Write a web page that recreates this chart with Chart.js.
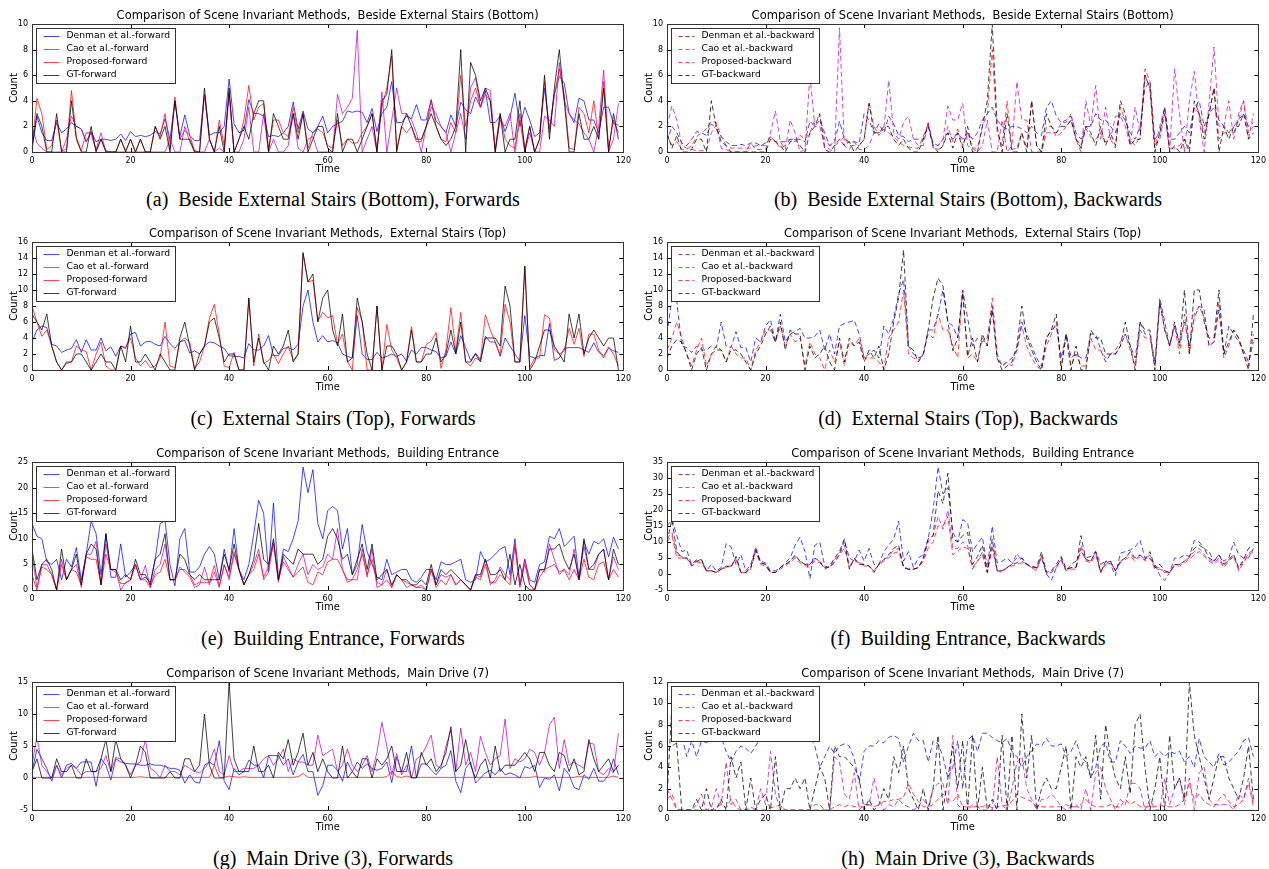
<!DOCTYPE html>
<html><head><meta charset="utf-8">
<script src="https://cdn.jsdelivr.net/npm/chart.js@4.4.1/dist/chart.umd.min.js"></script>
<style>
html,body{margin:0;padding:0;background:#fff;width:1269px;height:869px;overflow:hidden;}
.pane{position:absolute;width:635px;height:180px;}
.cap{position:absolute;width:600px;text-align:center;font-family:"Liberation Serif","Times New Roman",serif;font-size:20px;line-height:24px;color:#000;white-space:pre;}
</style></head><body>
<script>
// ---------- data ----------
const TIME_TICKS = [0,20,40,60,80,100,120];
const TITLES = [
 "Comparison of Scene Invariant Methods,  Beside External Stairs (Bottom)",
 "Comparison of Scene Invariant Methods,  External Stairs (Top)",
 "Comparison of Scene Invariant Methods,  Building Entrance",
 "Comparison of Scene Invariant Methods,  Main Drive (7)"
];
const CAPTIONS = [
 "(a)  Beside External Stairs (Bottom), Forwards", "(b)  Beside External Stairs (Bottom), Backwards",
 "(c)  External Stairs (Top), Forwards", "(d)  External Stairs (Top), Backwards",
 "(e)  Building Entrance, Forwards", "(f)  Building Entrance, Backwards",
 "(g)  Main Drive (3), Forwards", "(h)  Main Drive (3), Backwards"
];
const METHODS = ["Denman et al.", "Cao et al.", "Proposed", "GT"];

// (a) forward
const A_den = [0.2,2.8,1.5,0.9,0.9,2.3,1.5,1.8,2.3,2.0,
1.8,0.8,1.6,0.8,1.0,1.0,0.9,1.0,1.4,0.9,
1.6,1.2,1.3,1.2,1.3,1.6,1.4,2.6,1.0,4.0,
1.2,2.9,1.3,0.9,0.9,4.5,1.3,1.5,1.5,2.0,
5.7,2.2,1.5,1.7,4.1,3.0,3.0,2.8,1.2,1.3,
1.2,1.5,2.0,3.9,1.8,3.2,1.8,1.5,2.0,2.8,
1.5,2.0,2.2,2.4,3.2,3.1,3.2,3.1,2.3,3.4,
1.6,3.0,3.5,5.5,2.3,2.3,2.8,2.6,3.7,2.5,
2.5,4.1,2.4,2.0,1.5,2.9,2.0,3.9,3.3,3.0,
4.3,3.5,4.8,2.3,2.3,2.8,1.6,2.7,4.6,2.0,
3.5,2.5,1.2,1.5,5.0,1.8,4.5,5.9,5.4,3.0,
2.3,4.2,4.0,2.5,2.5,1.5,3.5,3.5,2.2,2.1];
const A_cao = [2.0,0.7,0.3,0,0,0,0,1.0,2.8,2.0,
1.8,0.8,1.5,0.2,1.5,0,0,0,0,0,
0,0,0,0,0,0,0,0,1.0,0,
0,2.0,0.8,0,0,0,1.0,0,0.3,0,
4.5,0,0,1.0,3.5,0,0,3.0,0,1.0,
0,0,0.5,3.0,0.3,0,1.0,1.2,0,0,
0,0,4.5,3.0,3.5,4.2,9.5,0,1.0,2.0,
0,4.7,0,2.5,5.0,3.0,3.0,2.5,1.5,0,
2.0,3.5,3.0,2.0,1.5,0,1.5,3.0,1.0,5.0,
5.8,3.5,5.0,4.8,0,2.5,2.0,3.0,0,2.5,
0,1.5,0,0,2.8,2.5,2.0,7.0,4.0,3.0,
2.5,2.2,1.5,1.0,0,2.0,6.4,0,1.0,3.8];
const A_prop = [0.3,4.2,3.0,0.2,0.5,2.5,0.1,0.2,4.8,1.2,
0.1,1.5,1.5,0.1,1.0,0.1,0,0,1.0,0.1,
1.0,0,1.0,0,0,2.0,1.2,3.0,0.2,4.3,
1.0,1.7,1.3,0.1,0,4.5,1.0,0,2.5,0.5,
4.7,0,1.0,2.5,5.2,2.5,3.5,3.8,0.2,2.5,
2.5,1.5,1.2,3.5,1.5,3.0,0.3,1.5,1.8,1.5,
0.5,0.3,2.5,0.5,1.0,0.7,0.7,1.5,2.0,3.0,
0.2,3.5,5.0,7.5,0.2,2.0,1.5,2.0,0.8,0.8,
2.0,4.0,2.0,1.0,0.8,2.3,1.5,6.0,2.0,4.0,
5.0,3.5,4.5,4.0,0.2,3.0,1.0,0.5,0.3,3.0,
0.3,2.0,0,1.0,5.5,1.5,4.5,6.5,4.5,0.3,
0.2,3.5,3.0,1.5,4.0,1.0,5.5,0.3,2.5,1.5];
const A_gt = [0.3,3,2,0,0,3,0,0,4,1,
0,0,2,0,1,0,0,0,1,0,
1,0,1,0,0,2,1,2,0,4,
1,1,1,0,0,5,1,0,2,0,
5,0,1,2,1,3,4,4,0,3,
2,1,1,3,1,3,0,1,2,2,
0.3,0,3,0,1,1,0,1,2,3,
0,4,4.5,8,0,2,3,2,1,1,
2,3,2,1,0.5,1,2,8,0,7,
6,4,5,4,0,3,0,1,1,4,
0,2,0,1,6,1,5,8,4,0,
0,3,1,1,2,1,5,0,3,1];

// (b) backward
const B_den = [0.8,2.0,1.5,0.7,0.5,1.0,1.6,1.5,1.3,2.2,
1.8,1.2,0.8,0.5,0.5,0.6,0.5,0.7,0.7,0.5,
0.7,1.2,0.8,0.8,0.8,1.0,1.0,1.0,0.8,2.4,
2.0,2.5,1.5,0.5,0.8,2.4,1.0,0.8,0.8,0.7,
3.0,2.5,1.5,2.2,1.5,2.8,2.2,1.3,1.2,0.8,
1.0,1.0,1.0,2.2,0.7,0.5,1.0,1.5,1.0,1.5,
1.0,1.5,1.0,1.5,2.5,3.0,3.5,2.5,2.0,1.8,
2.0,2.0,1.8,1.5,2.0,1.5,1.3,3.5,4.0,2.8,
2.3,2.5,2.8,1.5,1.0,2.0,2.0,3.0,2.5,2.5,
2.0,1.5,3.0,2.5,1.5,1.0,2.0,5.0,5.5,1.0,
1.5,3.0,1.0,1.0,1.5,2.0,1.5,3.5,4.0,2.0,
3.0,3.5,2.5,2.0,1.5,1.5,2.5,3.0,2.0,2.3];
const B_cao = [2.0,3.6,2.5,0.5,0.3,0.2,0.1,0.1,0.1,1.5,
2.1,0.3,0.2,0,0,0,0,0.7,0.2,0.2,
0.2,1.5,3.2,0.8,0.2,2.5,1.5,0,0.2,6.0,
2.0,2.0,0.5,0.2,0,9.7,0.5,0.2,0.8,0.2,
0.2,0.5,1.5,1.5,1.8,5.6,1.5,1.0,2.3,2.8,
1.0,0.5,0.5,2.3,0.3,0.5,1.0,3.6,2.5,2.5,
3.8,0.5,0.3,0,0.5,2.5,0,0,2.5,0,
0.5,5.5,2.5,2.5,0,0,0,1.5,1.5,1.5,
2.3,2.3,3.0,1.0,0,4.0,2.0,5.2,1.0,3.5,
1.0,2.8,2.8,2.0,0.5,3.5,1.5,6.0,5.0,0.5,
1.0,3.0,0,6.5,3.0,0,4.0,6.3,2.5,0,
3.8,8.2,2.0,2.0,4.0,1.0,3.0,4.0,1.0,3.0];
const B_prop = [1.3,0.5,0.8,0.2,0.2,0.5,1.2,1.5,1.8,2.4,
2.3,1.2,0.5,0.3,0.3,0.3,0.3,0.3,0.5,0.5,
0.5,1.2,0.8,0.3,0.5,1.0,0.8,1.3,1.0,1.5,
2.5,2.8,1.0,0.5,0.5,0.8,1.2,0.5,0.5,0.5,
1.0,3.9,2.0,1.3,1.8,1.5,1.2,0.8,0.5,0.4,
0.3,0.3,1.2,2.2,0.5,0.2,0.5,2.0,0.8,1.8,
0.5,1.5,0.3,0.3,2.0,3.0,8.0,1.5,0.5,4.0,
0.2,0.3,1.5,0.3,4.0,0.5,0,2.0,2.0,1.2,
1.5,2.0,2.5,1.0,0.5,1.8,1.2,1.0,1.5,0.8,
1.0,0.3,3.5,2.5,1.0,0.5,1.2,6.5,5.5,0.3,
2.0,3.5,0.3,0.3,0.5,1.0,0.3,3.5,3.0,1.5,
3.0,5.0,1.0,1.5,1.5,2.0,2.5,4.0,1.5,2.0];
const B_gt = [1.5,0.3,1.3,0,0,0.2,1,1,0,4,
2,0.8,0.5,0,0,0,0,0,0,0,
0,1,0.8,0.5,0,0.8,1,0.5,0,1.5,
2,3,0.2,0,0.5,1,0.5,0.8,0,0.5,
1,3.8,1.5,1.5,2,2,1,0.5,1,0.3,
0,0,1,2,0.5,0,0.5,1.5,0.3,1.5,
0.3,2,0,0,2,4,10,2,0,3,
0,0,1.5,0,4,0.5,0,3,2,1.5,
2,2,2.5,1,0.3,2,1.5,0.5,2,0.5,
1.5,0.5,4,3,0.5,1,1,6,5,0,
1.5,3.5,0,0.5,0,1,0,4,3,1,
3,5,0,2,1,2,2,3,1,1.5];

// (c) forward
const C_den = [3.5,5.0,5.5,5.3,3.2,3.0,2.2,2.5,2.7,3.8,
2.2,3.8,2.5,2.5,4.0,2.4,2.9,1.7,3.0,2.7,
4.5,4.7,3.0,3.5,3.6,3.2,3.0,4.2,3.3,2.7,
3.5,3.7,2.1,2.4,2.0,3.0,3.5,3.4,3.0,2.7,
1.8,1.7,1.7,1.5,3.3,2.5,2.5,3.0,4.3,1.8,
1.8,2.7,2.8,2.5,3.2,8.0,10.0,6.0,3.5,4.3,
3.5,3.7,3.4,2.0,1.7,1.5,6.8,2.0,1.3,1.3,
2.2,1.5,1.7,2.0,1.7,2.0,1.1,2.5,2.0,2.8,
2.8,2.5,2.3,1.5,1.7,3.5,2.0,4.3,2.8,1.2,
2.1,1.3,4.2,3.5,3.5,1.7,4.0,3.0,2.0,1.1,
6.8,1.7,1.5,1.8,1.8,5.8,1.2,1.5,2.7,2.8,
2.8,2.8,2.5,2.2,3.4,2.2,1.8,2.7,2.4,2.2];
const C_cao = [];
const C_prop = [8.0,6.0,4.2,5.0,3.0,1.0,0,0.8,1.0,3.0,
2.5,2.3,0,2.0,3.5,0.5,0,0,3.0,2.8,
4.0,1.5,0.5,1.2,0.3,0.5,1.5,6.0,0.5,0.3,
3.5,4.0,3.5,0.2,1.0,3.0,6.5,8.2,4.5,0.5,
0.3,2.2,0,0,9.0,0.5,4.5,0.8,1.2,2.0,
0.8,2.0,3.0,1.2,2.0,14.5,11.0,11.2,6.1,7.2,
6.5,6.8,3.2,4.5,1.1,0,7.8,6.1,0,0,
8.0,0,5.7,2.5,1.5,0,1.0,5.4,1.0,1.0,
3.2,3.6,4.7,0.2,2.5,7.8,2.3,7.2,1.0,0.5,
1.5,1.2,6.9,5.0,3.5,1.9,8.2,6.0,1.0,1.0,
12.9,0.3,1.5,1.5,6.9,6.5,2.5,2.0,2.4,5.2,
3.2,5.2,1.7,4.5,4.5,2.5,1.5,2.9,2.0,0.5];
const C_gt = [7,6,5,7,3,1,0,1,1,2,
2,1,0,1,2,1,1,0,3,1,
5.5,1,1,2,1,0,2,1,0,0,
4,6,3,0,2,3,6,6.5,4,1,
2,2,0,0,9,1,4,1,0,3,
2,3,5,1,2,14.7,11,12,6,9,
10,5,3,7,1,1.5,9,6,2,0,
8,0,3,3,2,0,1,5,1,1,
2,2,4,1,2,5,2,6,1,1,
2,1,4,4,4,3,10.5,8,1,1,
13,0,1,3,5,5,3,2,1,7,
4,7,2,4,5,4,3,4,4,0];

// (d) backward
const D_den = [4.5,9,8.5,3,2.8,2.2,3,2.5,2.5,3,
2.8,6,3,2.8,4.8,2.8,2.8,1,4,3.5,
5.5,6.3,3.5,7,3.5,4.5,4.8,5.2,4,4,
4.2,5,2.5,4.5,2,5.5,5.8,6,6.2,4.5,
1.5,2,2.5,1.5,5.5,4.5,6.5,9.5,11.3,3,
2,1.5,1.8,5,5,7,10,6,5.5,4,
10,6.5,3,4,3.5,4,8,1.5,0.5,1,
1.5,2.5,6,4.5,3,1.5,0.5,4,5,5.5,
1.5,4.5,1.5,2,1.5,1.5,4.5,4.5,2.5,1,
2,2,3,4.5,3,1.5,6,4.5,4.5,1,
9,6,3,5.5,3.5,6,3,6.5,8,7.5,
3,3.5,7.5,2,5.5,4.5,3.5,2.5,1,3.5];
const D_cao = [];
const D_prop = [2.5,4,6,4,2,0.5,2.5,4,0.5,2,
3,2.5,1,3,2,1.5,1.5,0,2.5,3.5,
5,5,3.5,5.5,3,4.5,3.5,4,0.5,3.5,
2,1.5,0,2.5,1,3.5,0.5,3.5,3,4,
1.5,1.5,1.5,1,0.2,4,5,6,10,2,
1.5,1.2,2,4.5,4,7,5,5,3,1.5,
10,1.5,2,1,4,3,9,2,0.5,1,
0.5,2.5,5.5,3,1.5,0.5,0,3,4.5,6,
0.5,4.5,0.5,2,0.5,0.5,4,2.5,2.5,1.5,
2,2.5,3.5,4.5,2.5,0.5,5,4,4,0.5,
8.5,5,3,5.5,2,7,2,7,8,6.5,
3,3.5,8.5,1.5,3,5,4,2,0.5,4.5];
const D_gt = [1.5,3,3.8,3.5,2,0,2,2.8,0,2,
2.5,2.5,1,2.5,2.5,2,1,0,2,3,
4.5,5.5,3.5,6,2.5,5,4.5,4.5,0,3,
1.5,2,3,1,0,4,1,4,3,3.5,
1,2.5,1.5,3,0,2,6,9,15,3,
2.5,1,2,5,9,11.5,10.5,6,2.4,4,
9.7,1.7,4,1,4.5,3,7.5,1.5,0,0.5,
1,3,8,4,2.5,1,0,4,5,7,
0,4.5,0,3,0,0,5,4,4,2,
2,2,3,6,3,0,6,5,5,0,
8.5,5,3,6,3,10,2,10,10,6,
4,4,10,2,3.5,5,4,2,0,7];

// (e) forward
const E_den = [13,10.5,10,5.5,5,6,2,6,4.5,8.3,
2,7,13.5,11,3,11,2.5,2.5,9,2.5,
3.5,5,2,2.5,1.5,6,13,13.5,5,0.8,
10,12,3.5,3.5,4.5,7,8.5,7,2,8,
3.5,12,4,2,5,11,17.5,15,3.5,17,
2,8,7.5,10,13.5,24,19,23.5,13,10,
15.5,16.3,15.5,8,12,3,5,12.8,7.5,5,
2.5,2,6,3,3.5,4,4,2,1.5,2.5,
4,4,2,5.5,5,5,5.5,6,2,1.5,
2,7.5,5.5,6,7,8,8.5,3,10,1,
6,2,1.5,5,5.5,10.5,10,12,8.5,9.5,
10.5,2.5,9.5,7,9.5,9,10,6.5,10.3,8];
const E_cao = [7,0.5,5,5,3,0,6,2,4,5,
0.5,7,7,9.5,1,9,4,4,0,1.5,
2,5,2,4.8,0.5,4,5,9,2,2,
4.5,3.5,2.5,0.5,1,4.5,1,3.5,0.5,5,
2,7,4,1,3,5,8,2,3.5,9.5,
1.5,6.5,4.5,2.5,5,7,3,5,4,4.5,
7,6,12,4,2,2,2,8,2.5,8,
0.5,1,4,0.5,3,2,0.5,1,0.5,0.5,
0,4,1,3,2.5,3,1,2,1,0,
3,2.5,6,1,2,4.5,3,2,9,1,
6,1,0,4,3.5,9,6,3,4,3,
8,2,8.5,4,4,7,8,2,6.5,4];
const E_prop = [3,0,4.5,4,3,0,5,2,4,3.5,
1,6.5,6,6,1,7,4,3.5,1.2,1.3,
2,5,2,2,0.5,3,3.5,6,2,2,
4,4,3,1,1.5,1.5,1.5,4.8,0.8,4.8,
2.5,7.5,4,1,3,4,7,2.5,4.5,9,
2,5.5,4,2.5,3.5,4.5,1.5,1,3.5,3,
5.5,6,6,4,1.5,2,4,7,3,6,
1.5,1,2,0.5,3,2,1.5,1,0.5,1,
0,4,0.5,2,1,3,1,2,1,0,
2.5,2,5,1.5,1.5,3,2,1,8.5,0.5,
5,1,0,2.5,4,4.5,5,3.5,4,2,
4,2,6,2.5,2,5,5.5,2,4,2.5];
const E_gt = [8,2,5,6,4,0,8,2,4,7,
1,7,9,8,1,11,4,4,2,3,
2,6,3,3,1,6,7,11,2,2,
7,6,3,2,3,2,2,2,2,7,
4,9,4,1,3,6,13,6,5,10,
2,7,6,5,8,7,7,7,5,6,
10.5,12,10,6,7,3,6,9,4,9,
2,3,4,1,3,2,2,1,1,2,
1,5,1,4,3,4,3,2,1,0,
3,3,6,3,3,4,2,7,1,5,
1,0,0,4,4,8,8,9,6,4,
7,2,10,4,5,7,8,2,8,5];

// (f) backward
const F_den = [15,17,12,7,7.5,3,4.5,4.5,1,3,
1,2,9.5,8.5,3,6,1,3,8,4,
3.5,1,1,2,3.5,5,9,11.5,7,-1.5,
9,10,2.5,2,3.5,6,10.5,5,4,7.5,
4,8,3,3,7,9,11,16.5,4,7,
2,5,6,11,20,33.5,25,27,13,10,
17,16,7,9.5,11.5,2,15,3.5,4,5,
3.5,5,5,3,2,2,5,0,-2,2,
5,1,3,4,7,5,5.5,7,3,4,
3,-0.5,6.5,7,7.5,8.5,10.5,5,5,3,
-0.5,-2,0.5,5,5,6,5.5,10.5,10,8,
7,4,6,4,5,10,6,5,5,8];
const F_cao = [11,13,6,5.5,5,2.5,4,4,1,1,
0.5,1.5,2.5,2.5,5,0.5,0.5,2,8.5,3.5,
3,0.5,0.5,2,3,4,5.5,4,3,3,
4.5,4,2,2,4.5,6.5,9,2,4.5,3.5,
3,2.5,1,3,4.5,5.5,7.5,8,2,1.5,
1.5,2,4.5,10,12,18,14,20,8,8,
10,9,1.5,4,7,0.5,9,1,0.5,2,
3,6.5,4,3,2,1.5,6,0,0.5,2.5,
4.5,1,2,2,9,4.5,4,7,0.5,3.5,
4,1,4,5,6.5,4.5,6,4.5,6,2,
2,0.5,0.5,3,3,4,5,7,8,6,
4.5,3.5,5,2.5,4.5,6,1.5,4,6.5,7.5];
const F_prop = [10,12,5,5,5,2.5,3.5,3.5,1,1,
0.5,1.5,2,2.5,4.5,0.5,0.5,1.5,7,3,
2.5,0.5,0.5,1.5,2.5,3.5,5,3.5,2.5,2.5,
4,3.5,2,2,4,6,8,2.5,4,3.5,
2.5,2.5,1,3,4,5,6.5,7,2.5,1.5,
1.5,2,4,8,10,15,15,18,6,7,
8.5,8,2,4,6,0.5,8,1,1,2,
2.5,3,3.5,3,2,1,5.5,0.5,0.5,2,
4,1,1.5,1.5,8,4,3.5,6,0.5,3,
3.5,1,3.5,4.5,5.5,4,5.5,4,5,1.5,
1.5,0.5,0.5,2.5,2.5,3.5,4.5,6,7,5.5,
4,3,4.5,2,4,5.5,1,3.5,6,7];
const F_gt = [10,17,7,5,5,3,4,4.5,1,1,
0.5,1.5,2.5,2,5.5,0.5,0.5,2,7.5,3.5,
3,0.5,0.5,2,3,4,6,4,3,3,
5,4,1.5,2.5,5,7,11,1.5,5,3,
3,2.5,0.5,3,4.5,6,8,9,2,1.5,
1.5,2,5,11,12,26,22,31.5,11,10,
12,13,3,5.5,9,0.5,11,1,1,2,
3,3.5,5,3,2.5,2,7,0.5,1,3,
5.5,1.5,2,2,12,4.5,4,7,0.5,4,
4,1,4,5,7,5,6,4.5,7,2,
3,1,0.5,3,3,4,5.5,8,9,8,
5,4,6,3,4.5,6,2,4.5,8,9];

// (g) forward
const G_den = [1,4.5,3,1.5,-0.5,2,0,2,2.3,1.5,
2.5,2.5,2.5,-1.3,3,2,-0.3,3,2.5,2.3,
2.2,2.2,2,2,2.2,2,2,1.8,1.5,1.5,
1.2,-0.8,0.5,-0.6,-0.8,2,2.5,2,5.8,-0.5,
-1.8,1.5,0.5,1,2.8,2,2,0,3.5,3.5,
3.5,2,3,0.5,2.5,3.7,1,1,-2.7,-1.2,
2,2,1.2,-0.5,2.5,1,2.5,1.5,2.2,1.5,
1.2,1.5,2.5,-0.7,3.3,1,1,5,0,2.2,
2.2,1.3,0.5,1.5,2,4.3,-0.5,-2.3,1.5,2.5,
-0.8,0,0.8,1.2,0.5,1.5,0.5,0.8,0.5,0,
1.8,1.5,2,-1.5,0,-0.2,0.5,-2,1.5,0.5,
-1.5,-1.8,0.5,-0.2,1.5,-0.5,-0.5,0.5,3,0.5];
const G_cao = [2,6.5,2,1,0,2,0.5,1.5,2,1.5,
0.5,1,1,1,1.5,3.5,1,3.2,3,2,
0.5,2,2.5,6,1.5,1,0,2,1,1,
0.5,2,1.5,1,0.8,1.5,2.5,4.5,1,0.5,
3.5,1,1,1.5,1.5,1.5,2,3,3.5,2,
3,4.5,1,3,2.5,2.5,2,2,6.7,3.5,
4,4.5,1,2,4.5,2,1,2,3.5,1,
4,8.7,5,0.5,3.8,0.5,2,0,3,3.5,
5,6.7,2,1.5,5,7.5,1,7.8,2,4,
1,6.5,4,2,3,3.5,9.2,1.5,3,2.5,
3,4.5,4,2,4,8.3,9.5,1.5,6,2,
2.5,2,1.5,5.5,5.3,1,0.5,1.5,0.8,7];
const G_prop = [0.1,0.1,0.1,0.1,0.1,0.1,0.1,0.1,0.1,0.1,
0.1,0.1,0.1,0.1,0.1,0.1,0.1,0.1,0.1,0.1,
0.1,0.1,0.2,0.1,0.1,0.1,0.1,0.1,0.1,0.1,
0.1,0.1,0.1,0.1,0.1,0.1,0.1,2.0,0.1,0.1,
0.3,0.2,0.1,0.2,0.1,0.1,0.1,0.1,0.1,0.1,
0.1,0.1,0.1,0.1,0.2,0.7,0.1,0.1,0.1,0.1,
0.1,0.1,0.1,0.1,0.1,0.1,0.1,0.1,0.1,0.1,
0.1,0.1,0.2,1.0,0.2,0.1,0.3,0.1,0.1,0.1,
0.1,0.1,0.1,0.1,0.1,0.1,0.1,0.1,0.1,0.1,
0.1,0.1,0.1,0.1,0.1,0.1,0.1,0.1,0.1,0.1,
0.1,0.1,0.2,0.1,0.1,0.1,0.1,0.1,0.1,0.1,
0.1,0.3,0.1,0.1,0.1,0.1,0.1,0.1,0.3,0.1];
const G_gt = [1,3,0,0,0,3,1,1,2,0,
0,3,1,1,3,6,1,6,3,2,
0,2,5,4,0,0,0,0,1,0,
0,3,3,1,2,10,2,0,0,0,
15,3,1,1,1,5,1,1,2,0,
4,3,6,2,4,7,2,4,1,3,
1,0,0,5,0,1,0,3,3,0,
3,2,3,5,1,1,4,0,0,4,
2,3,1,2,4,8,1,2,6,2,
0,2,3,0,5,1,2,2,2,3,
4,3,1,4,4,2,1,4,3.5,1,
3,0.5,1,6,3,1,2,3,1,2];

// (h) backward
const H_den = [5.5,6,6.3,7,5,6.5,5,6.5,6.3,6.5,
7,6.8,5.5,4.5,5.5,6,5.8,5.3,6,6.8,
7,7.5,6.5,7,7.5,7,7,7,7,7,
6,4,5,6,5.3,6,6.2,6,4.8,2.5,
5.5,6,6,6.5,6.3,6.8,7,6.7,4.5,6,
7.2,6.5,6.5,4.5,6.5,6.2,5,3,4,6.5,
2,6.5,7,5.5,7.2,7.2,6.8,6.5,6.3,6.7,
5.5,5,4,5,5.5,6.2,6,6.7,6,6,
6.2,5,5.5,6.5,5,4.5,3,4,6,6.3,
4.5,4.5,6.5,6,5.3,6,5.8,5.8,6.5,5,
5.5,5,5.5,5.3,5.5,4.5,5,4,6.7,5,
4.5,4,5.3,4.2,4.5,5,5.5,6.5,6.8,5];
const H_cao = [2,1,0,0,0,0,0.5,1.5,0,0.2,
2,0.5,4.5,0.5,1,0,0,0.3,0,2,
0.5,5.5,1.5,0,0,0,0,0,0,0,
0.5,0.5,0,0,5,4.5,1.5,1,3.5,0,
0.5,0.5,3,1,0,0.5,0.3,1,0.5,0.3,
0,0.3,1,0.3,2,2.5,2.5,0.5,7,0.5,
0,0,0.5,0.3,0,0,0,5,0.5,0,
2,4.5,5,2,1,0,1,1,1.5,1,
0.3,0,0.3,0.5,0,2,0,3.5,4,2,
1,0,1,0.5,2.5,2.5,2,0,1,0,
0,3,0.5,2,3,0.5,3,0,3.5,4,
1,0.5,0.5,0.5,0.5,0,1.5,1,3,0.5];
const H_prop = [1,1.5,0.1,0,0,0,0,0,0,0,
0.3,0.5,0.2,1,0.2,0,0,0,0,0,
0,0.2,0.3,0.5,0,0,0,0,0,0,
0,0,0,0,0.3,0.5,0.3,0.5,0.3,0.3,
0.3,0.5,0.3,0.5,0.8,0.8,1,1,1.2,2.5,
1.5,0.8,0.3,0.3,0.5,1,1.5,1,0.8,1.5,
0.3,0.3,0.3,0.3,0.3,0.5,0.2,0.3,0.3,0.5,
0.8,1.5,1.2,1,0.8,0.3,0.3,0.3,0.3,0.3,
0.3,0.5,0.3,0.3,0.5,1,0.5,0.3,0.3,0.3,
0.5,0.3,0.3,1,0.5,0.8,0.3,0.3,0.3,0.3,
0.5,0.3,0.3,0.3,0.5,1,2.5,1,1.5,0.8,
0.5,0.3,1,1.5,0.8,0.3,0.5,1,2.5,0.3];
const H_gt = [1,10,6,0,0,0,1,0,2,0,
0,1,0,5,3,4.5,0,3,0,1,
1.5,0,5,0,2,2,3,2,3,0,
2,4,3,0,6,5,5,4.5,4,3,
0,1,0,0.5,2,1,5,3.5,6,2,
1,0,2,0,2,7,0,3,6,2,
6.5,0,7,0,4,0,1,0,7,0,
7,0,9,3,7,0,2,3,2,2,
4,6,0,5,4,5,3,7,1,8,
5,3,2,5,1.5,8,9,4,0,2,
5,0,7,2,3,1,12,7,5,3,
1,3,5,5,3,2,1,3,6,1];

// y-axis tick ranges [min, max, step]
const Y_A = [0,10,2], Y_B = [0,10,2], Y_C = [0,16,2], Y_D = [0,16,2];
const Y_E = [0,25,5], Y_F = [-5,35,5], Y_G = [-5,15,5], Y_H = [0,12,2];

// ---------- layout / styling ----------
const COLORS = ['rgba(0,0,255,0.72)','rgba(191,0,191,0.72)','rgba(255,0,0,0.72)','rgba(0,0,0,0.75)'];
const ROW_TOP = [1,219,439,659];
const CAP_Y = [199,418,638,858];
const CAP_X = [333,968];
const PANELS = [
 {row:0,col:0,dir:'forward', y:Y_A, s:[A_den,A_cao,A_prop,A_gt]},
 {row:0,col:1,dir:'backward',y:Y_B, s:[B_den,B_cao,B_prop,B_gt]},
 {row:1,col:0,dir:'forward', y:Y_C, s:[C_den,C_cao,C_prop,C_gt]},
 {row:1,col:1,dir:'backward',y:Y_D, s:[D_den,D_cao,D_prop,D_gt]},
 {row:2,col:0,dir:'forward', y:Y_E, s:[E_den,E_cao,E_prop,E_gt]},
 {row:2,col:1,dir:'backward',y:Y_F, s:[F_den,F_cao,F_prop,F_gt]},
 {row:3,col:0,dir:'forward', y:Y_G, s:[G_den,G_cao,G_prop,G_gt]},
 {row:3,col:1,dir:'backward',y:Y_H, s:[H_den,H_cao,H_prop,H_gt]}
];
const FONT = "'DejaVu Sans', sans-serif";

const decor = {
  id:'decor',
  afterDraw(chart, args, o){
    const ctx = chart.ctx, a = chart.chartArea;
    const xs = chart.scales.x, ys = chart.scales.y;
    ctx.save();
    // inward ticks on all sides
    ctx.strokeStyle = '#000'; ctx.lineWidth = 1;
    ctx.beginPath();
    xs.ticks.forEach(t=>{
      const px = Math.round(xs.getPixelForValue(t.value)) + 0.5;
      ctx.moveTo(px, a.bottom); ctx.lineTo(px, a.bottom-4);
      ctx.moveTo(px, a.top); ctx.lineTo(px, a.top+4);
    });
    ys.ticks.forEach(t=>{
      const py = Math.round(ys.getPixelForValue(t.value)) + 0.5;
      ctx.moveTo(a.left, py); ctx.lineTo(a.left+4, py);
      ctx.moveTo(a.right, py); ctx.lineTo(a.right-4, py);
    });
    ctx.stroke();
    // legend
    ctx.font = '9.2px ' + FONT;
    const labels = o.labels;
    let tw = 0; labels.forEach(l=>{tw = Math.max(tw, ctx.measureText(l).width);});
    const bx = Math.round(a.left)+4.5, by = Math.round(a.top)+4.5;
    const bw = Math.round(30 + tw + 5), bh = 55;
    ctx.fillStyle = '#fff'; ctx.fillRect(bx, by, bw, bh);
    ctx.strokeStyle = '#333'; ctx.strokeRect(bx, by, bw, bh);
    labels.forEach((l,k)=>{
      const yy = by + 7.5 + k*12.9;
      ctx.strokeStyle = o.colors[k]; ctx.lineWidth = 1;
      ctx.setLineDash(o.dashed ? [4,3] : []);
      ctx.beginPath(); ctx.moveTo(bx+7, Math.round(yy)+0.5); ctx.lineTo(bx+23, Math.round(yy)+0.5); ctx.stroke();
      ctx.setLineDash([]);
      ctx.fillStyle = '#000'; ctx.textBaseline = 'middle'; ctx.textAlign = 'left';
      ctx.fillText(l, bx+30, yy);
    });
    // frame
    ctx.strokeStyle = '#333'; ctx.lineWidth = 1;
    ctx.strokeRect(Math.round(a.left)+0.5, Math.round(a.top)+0.5, Math.round(a.right-a.left), Math.round(a.bottom-a.top));
    // title
    ctx.fillStyle = '#000'; ctx.textAlign = 'center'; ctx.textBaseline = 'bottom';
    ctx.font = '11.5px ' + FONT;
    ctx.fillText(o.title, (a.left+a.right)/2, a.top-2);
    // axis labels
    ctx.font = '10px ' + FONT; ctx.textBaseline = 'middle';
    ctx.fillText('Time', (a.left+a.right)/2, a.bottom+17);
    ctx.translate(14, (a.top+a.bottom)/2); ctx.rotate(-Math.PI/2);
    ctx.fillText('Count', 0, 0);
    ctx.restore();
  }
};

PANELS.forEach(p=>{
  const div = document.createElement('div');
  div.className = 'pane';
  div.style.left = (p.col*635) + 'px';
  div.style.top = ROW_TOP[p.row] + 'px';
  const cv = document.createElement('canvas');
  cv.width = 635; cv.height = 180;
  div.appendChild(cv); document.body.appendChild(div);
  const labels = METHODS.map(m=>m + '-' + p.dir);
  const dashed = p.dir === 'backward';
  const datasets = p.s.map((vals,k)=>({
    label: labels[k],
    data: vals.map((v,i)=>({x:i, y:v})),
    borderColor: COLORS[k], borderWidth: 1,
    borderDash: dashed ? [5,3] : [],
    pointRadius: 0, tension: 0, fill: false,
    order: 4-k
  }));
  new Chart(cv, {
    type:'line',
    data:{datasets},
    options:{
      responsive:false, animation:false, events:[],
      layout:{padding:{left:0,right:10,top:23,bottom:0}},
      plugins:{
        legend:{display:false}, tooltip:{enabled:false}, title:{display:false},
        decor:{title:TITLES[p.row], labels, colors:COLORS, dashed}
      },
      scales:{
        x:{type:'linear', min:0, max:120,
           afterBuildTicks(s){ s.ticks = TIME_TICKS.map(v=>({value:v})); },
           ticks:{font:{family:FONT,size:8}, color:'#000', padding:4, maxRotation:0, autoSkip:false},
           grid:{display:false, drawTicks:false}, border:{display:false},
           afterFit(s){ s.height = 29; }},
        y:{type:'linear', min:p.y[0], max:p.y[1],
           ticks:{stepSize:p.y[2], font:{family:FONT,size:8}, color:'#000', padding:4},
           grid:{display:false, drawTicks:false}, border:{display:false},
           afterFit(s){ s.width = 32; }}
      }
    },
    plugins:[decor]
  });
  const cap = document.createElement('div');
  cap.className = 'cap';
  cap.textContent = CAPTIONS[p.row*2 + p.col];
  cap.style.left = (CAP_X[p.col]-300) + 'px';
  cap.style.top = (CAP_Y[p.row]-12) + 'px';
  document.body.appendChild(cap);
});
</script>
</body></html>
